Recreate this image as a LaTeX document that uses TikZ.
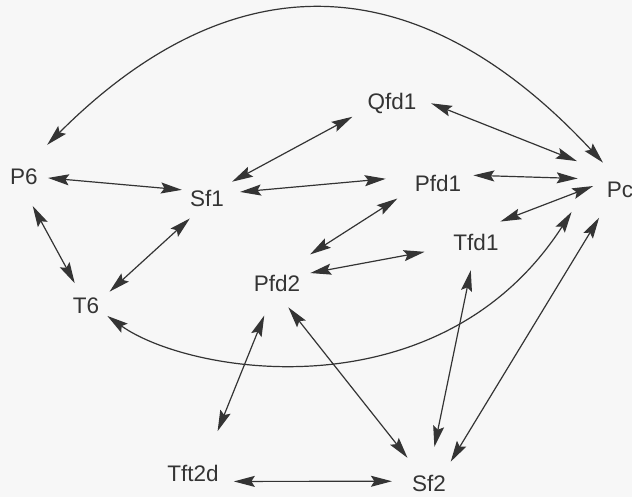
\documentclass[tikz,border=0pt]{standalone}
\usepackage{fontspec}
\setmainfont{Liberation Sans}
\usetikzlibrary{arrows.meta}
\definecolor{bggray}{RGB}{247,247,247}
\definecolor{inkgray}{RGB}{52,52,52}
\begin{document}
\begin{tikzpicture}[x=1pt,y=-1pt,
  lbl/.style={inner xsep=8pt,inner ysep=12pt,text=inkgray,font=\fontsize{22.5}{27}\selectfont},
  dar/.style={draw=inkgray,line width=1.2pt,<->},
  >={Stealth[length=21pt,width=11pt,inset=3.5pt]}]
\fill[bggray] (0,0) rectangle (632,497);
\useasboundingbox (0,0) rectangle (632,497);
% nodes
\node[lbl] (P6)    at (24,177)  {P6};
\node[lbl] (Sf1)   at (207,198) {Sf1};
\node[lbl] (Qfd1)  at (392,103) {Qfd1};
\node[lbl] (Pfd1)  at (438,183) {Pfd1};
\node[lbl] (Pc)    at (620,190) {Pc};
\node[lbl] (Tfd1)  at (476,242) {Tfd1};
\node[lbl] (Pfd2)  at (277,283) {Pfd2};
\node[lbl] (T6)    at (86,306)  {T6};
\node[lbl] (Tft2d) at (193,473) {Tft2d};
\node[lbl] (Sf2)   at (429,483) {Sf2};
% straight connectors
\draw[dar,shorten <=2pt] (P6.-2) -- (Sf1.162);
\draw[dar,shorten >=8pt] (Sf1.33) -- (Qfd1.197);
\draw[dar,shorten <=8pt,shorten >=21pt] (Sf1.12) -- (Pfd1.169);
\draw[dar,shorten <=7pt,shorten >=24pt] (Qfd1.4) -- (Pc.136);
\draw[dar,shorten <=4pt,shorten >=21pt] (Pfd1.14) -- (Pc.153);
\draw[dar,shorten <=6pt] (Pc.164) -- (Tfd1.40);
\draw[dar,shorten <=15pt,shorten >=11pt] (Pfd2.45) -- (Pfd1.197);
\draw[dar,shorten <=2pt,shorten >=21pt] (Pfd2.17) -- (Tfd1.191);
\draw[dar,shorten <=3pt,shorten >=10pt] (T6.116) -- (P6.-79);
\draw[dar,shorten <=3pt] (T6.30) -- (Sf1.230);
\draw[dar,shorten <=13pt,shorten >=23pt] (Pfd2.249) -- (Tft2d.52);
\draw[dar,shorten <=5pt,shorten >=6pt] (Pfd2.-68) -- (Sf2.131);
\draw[dar,shorten <=8pt,shorten >=16pt] (Tfd1.-100) -- (Sf2.84);
\draw[dar,shorten <=9pt,shorten >=1pt] (Pc.-129) -- (Sf2.44);
\draw[dar,shorten <=7pt,shorten >=12pt] (Tft2d.-14) -- (Sf2.176);
% arcs
\draw[dar,shorten <=17pt,shorten >=10pt] (P6.61.5) .. controls +(195.5,-195.5) and +(-194,-208.5) .. (Pc.117.3);
\draw[dar,shorten >=50pt] (T6.-25) .. controls +(83,59) and +(-158,245) .. (Pc.north west);
\end{tikzpicture}
\end{document}
